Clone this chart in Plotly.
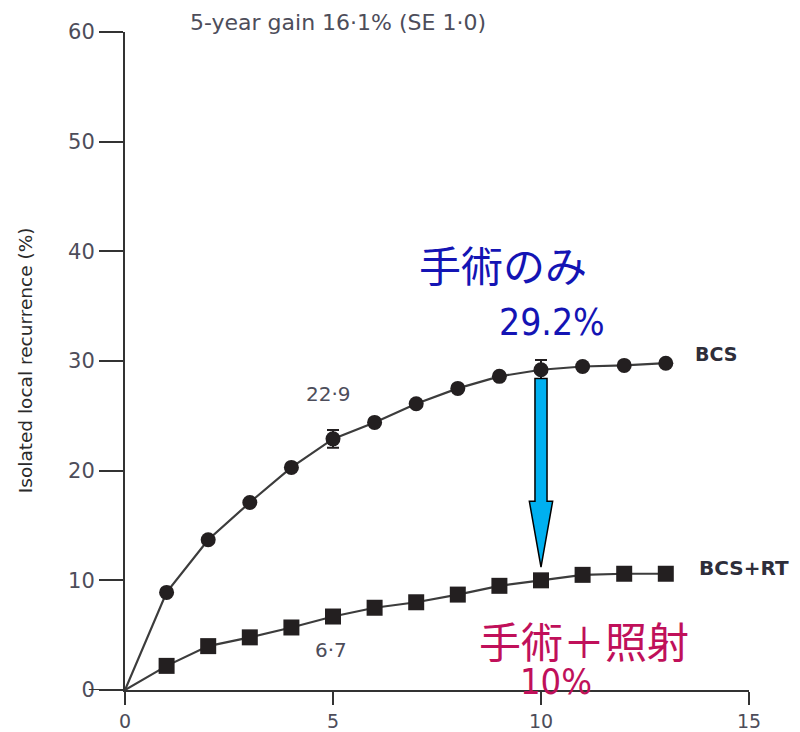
import plotly.graph_objects as go

# Years of follow-up and cumulative isolated local recurrence (%)
years = [1, 2, 3, 4, 5, 6, 7, 8, 9, 10, 11, 12, 13]
bcs = [8.9, 13.7, 17.1, 20.3, 22.9, 24.4, 26.1, 27.5, 28.6, 29.2, 29.5, 29.6, 29.8]
bcs_rt = [2.2, 4.0, 4.8, 5.7, 6.7, 7.5, 8.0, 8.7, 9.5, 10.0, 10.5, 10.6, 10.6]
bcs_se = [None, None, None, None, 0.8, None, None, None, None, 0.9, None, None, None]

x_ticks = [0, 5, 10, 15]
y_ticks = [0, 10, 20, 30, 40, 50, 60]

title_text = "5-year gain 16·1% (SE 1·0)"
y_title = "Isolated local recurrence (%)"
label_bcs = "BCS"
label_bcs_rt = "BCS+RT"
value_5y_bcs = "22·9"
value_5y_bcs_rt = "6·7"
note_surgery = "手術のみ"
note_surgery_rt = "手術＋照射"

INK = "#231f20"
LINE = "#3c3c3c"
TICK_TXT = "#4d4d5a"
BLUE_TXT = "#1414b4"
RED_TXT = "#c0105a"
ARROW_FILL = "#00b0f0"
SANS = "DejaVu Sans, sans-serif"
NARROW = "Liberation Sans Narrow, DejaVu Sans Condensed, Roboto Condensed, Liberation Sans, sans-serif"

fig = go.Figure()

# Curves start from the origin; the origin itself carries no marker
fig.add_trace(go.Scatter(
    x=[0] + years, y=[0] + bcs, mode="lines",
    line=dict(color=LINE, width=2.2), hoverinfo="skip", showlegend=False))
fig.add_trace(go.Scatter(
    x=[0] + years, y=[0] + bcs_rt, mode="lines",
    line=dict(color=LINE, width=2.2), hoverinfo="skip", showlegend=False))

fig.add_trace(go.Scatter(
    x=years, y=bcs, mode="markers",
    marker=dict(symbol="circle", size=15, color=INK),
    error_y=dict(type="data", array=bcs_se, visible=True,
                 color=INK, thickness=2, width=6),
    showlegend=False))
fig.add_trace(go.Scatter(
    x=years, y=bcs_rt, mode="markers",
    marker=dict(symbol="square", size=16, color=INK),
    showlegend=False))

# Downward arrow from the surgery-only curve to the surgery+RT curve at year 10
ax = years[9]
y_top = bcs[9] - 0.8
y_tip = bcs_rt[9] + 1.2
y_neck = y_tip + 6.0
hw_shaft, hw_head = 0.145, 0.28
arrow_path = (
    f"M {ax - hw_shaft},{y_top} L {ax + hw_shaft},{y_top} "
    f"L {ax + hw_shaft},{y_neck} L {ax + hw_head},{y_neck} "
    f"L {ax},{y_tip} L {ax - hw_head},{y_neck} "
    f"L {ax - hw_shaft},{y_neck} Z"
)
fig.add_shape(type="path", path=arrow_path, xref="x", yref="y",
              fillcolor=ARROW_FILL, line=dict(color="black", width=1.5))

# Short extension of the baseline to the left of the y axis
fig.add_shape(type="line", xref="paper", yref="y",
              x0=-0.058, x1=0, y0=0, y1=0,
              line=dict(color="#333333", width=2))

annotations = [
    dict(text=title_text, xref="paper", yref="paper", x=0.341, y=1.015,
         xanchor="center", yanchor="middle", showarrow=False,
         font=dict(family=SANS, size=22, color=TICK_TXT)),
    dict(text=y_title, xref="paper", yref="paper", x=-0.160, y=0.5015,
         xanchor="center", yanchor="middle", textangle=-90, showarrow=False,
         font=dict(family=SANS, size=18.5, color="#2a2a2a")),
    dict(text=label_bcs, x=13.65, y=30.6, xanchor="left", yanchor="middle",
         showarrow=False,
         font=dict(family=SANS, size=19, color="#2e2e3a", weight="bold")),
    dict(text=label_bcs_rt, x=13.75, y=11.1, xanchor="left", yanchor="middle",
         showarrow=False,
         font=dict(family=SANS, size=20, color="#2e2e3a", weight="bold")),
    dict(text=value_5y_bcs, x=4.9, y=27.0, xanchor="center", yanchor="middle",
         showarrow=False, font=dict(family=SANS, size=20, color=TICK_TXT)),
    dict(text=value_5y_bcs_rt, x=4.95, y=3.65, xanchor="center", yanchor="middle",
         showarrow=False, font=dict(family=SANS, size=20, color=TICK_TXT)),
    dict(text=note_surgery, x=9.09, y=38.9, xanchor="center", yanchor="middle",
         showarrow=False,
         font=dict(family="Noto Sans CJK JP", size=42, color=BLUE_TXT)),
    dict(text=f"{bcs[9]:.1f}%", x=10.26, y=33.5, xanchor="center", yanchor="middle",
         showarrow=False,
         font=dict(family=NARROW, size=37, color=BLUE_TXT)),
    dict(text=note_surgery_rt, x=11.03, y=4.6, xanchor="center", yanchor="middle",
         showarrow=False,
         font=dict(family="Noto Sans CJK JP", size=42, color=RED_TXT)),
    dict(text=f"{bcs_rt[9]:.0f}%", x=10.36, y=0.8, xanchor="center", yanchor="middle",
         showarrow=False,
         font=dict(family=NARROW, size=36, color=RED_TXT)),
]

fig.update_layout(
    width=800, height=732,
    margin=dict(l=125, r=51, t=32, b=42),
    paper_bgcolor="white", plot_bgcolor="white",
    annotations=annotations,
    showlegend=False,
    xaxis=dict(range=[0, 15], tickvals=x_ticks, ticktext=[str(v) for v in x_ticks],
               automargin=False,
               showgrid=False, zeroline=False, showline=True,
               linecolor="#333333", linewidth=2,
               ticks="outside", ticklen=13, tickwidth=2, tickcolor="#333333",
               tickfont=dict(family=SANS, size=19, color=TICK_TXT)),
    yaxis=dict(range=[0, 60], tickvals=y_ticks, ticktext=[str(v) for v in y_ticks],
               automargin=False,
               showgrid=False, zeroline=False, showline=True,
               linecolor="#333333", linewidth=2,
               ticks="outside", ticklen=24, tickwidth=2, tickcolor="#333333",
               tickfont=dict(family=SANS, size=21, color=TICK_TXT)),
)

fig.write_html("out.html")
